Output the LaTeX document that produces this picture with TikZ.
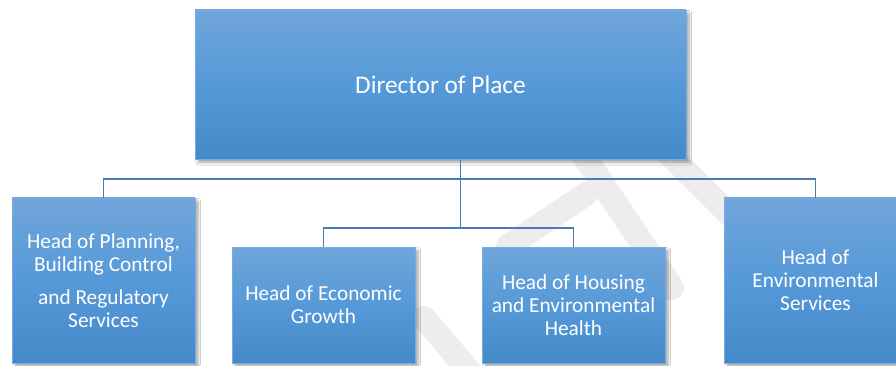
\documentclass[tikz,border=0pt]{standalone}
\usepackage{fontspec}
\setmainfont{Carlito}
\usetikzlibrary{shadows.blur}

\begin{document}
\begin{tikzpicture}[x=0.75pt,y=-0.75pt,line join=miter,
    unit/.style={draw=unitedge,line width=0.5pt,top color=unittop,bottom color=unitbot,
      middle color=unitmid,text=white,align=center,inner sep=0pt,
      blur shadow={shadow xshift=2.5pt,shadow yshift=-2.5pt,shadow blur steps=6,shadow opacity=35}},
    headunit/.style={unit,minimum width=368pt,minimum height=112pt,font=\fontsize{19}{22}\selectfont},
    tallunit/.style={unit,minimum width=137pt,minimum height=124pt,font=\fontsize{16}{17.3}\selectfont},
    lowunit/.style={unit,minimum width=137pt,minimum height=87pt,font=\fontsize{16}{17.3}\selectfont},
    link/.style={draw=linkblue,line width=1pt},
    wmband/.style={draw=black!7,line width=18pt,line cap=round}]
  \definecolor{unittop}{RGB}{112,166,219}
  \definecolor{unitmid}{RGB}{86,153,216}
  \definecolor{unitbot}{RGB}{68,137,200}
  \definecolor{unitedge}{RGB}{120,172,222}
  \definecolor{linkblue}{RGB}{72,124,180}

  % page
  \fill[white] (0,0) rectangle (896,365);
  \useasboundingbox (0,0) rectangle (896,365);
  \clip (0,0) rectangle (896,365);

  % faint background mark
  \draw[wmband] (655,140) -- (740,225);
  \draw[wmband] (580,150) -- (672,288);
  \draw[wmband] (508,246) -- (586,194);
  \draw[wmband] (424,318) -- (470,372);

  % director
  \node[headunit] (dir) at (440.5,84.5) {Director of Place};

  % heads of service
  \node[tallunit] (plan) at (103.5,280.5) {Head of Planning,\\Building Control\\[7pt]and Regulatory\\Services};
  \node[lowunit] (eco) at (323.5,305) {Head of Economic\\Growth};
  \node[lowunit] (hou) at (573.5,305) {Head of Housing\\and Environmental\\Health};
  \node[tallunit] (env) at (815.5,280.5) {Head of\\Environmental\\Services};

  % reporting lines
  \coordinate (topbus) at (460.7,179);
  \coordinate (lowbus) at (460.7,228);
  \draw[link] (dir.south -| topbus) -- (lowbus);
  \draw[link] (plan.north) |- (topbus) -| (env.north);
  \draw[link] (eco.north) |- (lowbus) -| (hou.north);
\end{tikzpicture}
\end{document}
